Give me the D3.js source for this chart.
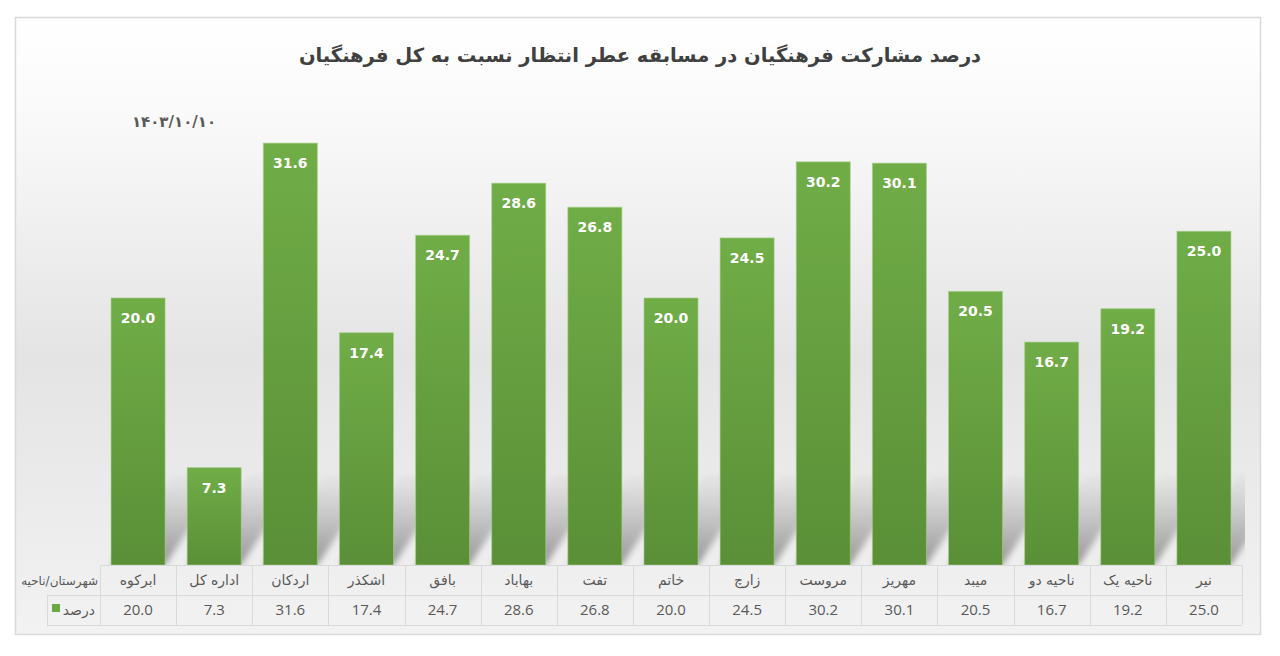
<!DOCTYPE html>
<html><head><meta charset="utf-8">
<script src="https://cdn.jsdelivr.net/npm/d3@7"></script>
<style>
html,body{margin:0;padding:0;background:#fff;}
svg{display:block;}
</style></head>
<body>
<svg id="chart" width="1280" height="656"></svg>
<script>
const categories = ["ابرکوه","اداره کل","اردکان","اشکذر","بافق","بهاباد","تفت","خاتم","زارچ","مروست","مهریز","میبد","ناحیه دو","ناحیه یک","نیر"];
const values = [20.0,7.3,31.6,17.4,24.7,28.6,26.8,20.0,24.5,30.2,30.1,20.5,16.7,19.2,25.0];
const titleText = "درصد مشارکت فرهنگیان در مسابقه عطر انتظار نسبت به کل فرهنگیان";
const dateText = "۱۴۰۳/۱۰/۱۰";
const headerLabel = "شهرستان/ناحیه";
const seriesName = "درصد";

const svg = d3.select("#chart");
const defs = svg.append("defs");
const bg = defs.append("linearGradient").attr("id","bg").attr("x1",0).attr("y1",0).attr("x2",0).attr("y2",1);
bg.append("stop").attr("offset","0%").attr("stop-color","#ffffff");
bg.append("stop").attr("offset","15%").attr("stop-color","#fafafa");
bg.append("stop").attr("offset","55%").attr("stop-color","#e4e4e4");
bg.append("stop").attr("offset","100%").attr("stop-color","#f2f2f2");
const bar = defs.append("linearGradient").attr("id","barg").attr("x1",0).attr("y1",0).attr("x2",0).attr("y2",1);
bar.append("stop").attr("offset","0%").attr("stop-color","#70ad47");
bar.append("stop").attr("offset","100%").attr("stop-color","#5a8f37");
const sh = defs.append("linearGradient").attr("id","shg").attr("x1",0).attr("y1",1).attr("x2",0).attr("y2",0);
sh.append("stop").attr("offset","0%").attr("stop-color","#8c8c8c").attr("stop-opacity",0.9);
sh.append("stop").attr("offset","100%").attr("stop-color","#a0a0a0").attr("stop-opacity",0.05);
defs.append("filter").attr("id","blur").attr("x","-30%").attr("y","-30%").attr("width","160%").attr("height","160%")
  .append("feGaussianBlur").attr("stdDeviation",3);
defs.append("clipPath").attr("id","plotclip").append("rect")
  .attr("x",17).attr("y",19).attr("width",1228).attr("height",546);

// outer frame
svg.append("rect").attr("x",15.5).attr("y",17.5).attr("width",1245).attr("height",617)
  .attr("fill","url(#bg)").attr("stroke","#d9d9d9").attr("stroke-width",1.5);

const x = d3.scaleBand().domain(categories).range([100,1242]).paddingInner(0.29).paddingOuter(0.145);
const y = d3.scaleLinear().domain([0,35]).range([565,97.75]);
const base = y(0);

// shadows
svg.append("g").attr("clip-path","url(#plotclip)").append("g").attr("filter","url(#blur)")
  .selectAll("path").data(categories).join("path")
  .attr("d", d => {
    const x0 = x(d), x1 = x(d)+x.bandwidth(), h = 90, dx = 60;
    return `M${x0},${base} L${x1},${base} L${x1+dx},${base-h} L${x0+dx},${base-h} Z`;
  }).attr("fill","url(#shg)");

// bars
svg.append("g").selectAll("rect").data(values).join("rect")
  .attr("x",(d,i)=>x(categories[i]))
  .attr("y",d=>y(d))
  .attr("width",x.bandwidth())
  .attr("height",d=>base-y(d))
  .attr("fill","url(#barg)")
  .attr("stroke","#a9d18e").attr("stroke-width",1).attr("stroke-opacity",0.6);

// data labels
svg.append("g").selectAll("text").data(values).join("text")
  .attr("x",(d,i)=>x(categories[i])+x.bandwidth()/2)
  .attr("y",d=>y(d)+25)
  .attr("text-anchor","middle")
  .attr("font-family","'DejaVu Sans', sans-serif")
  .attr("font-weight","bold").attr("font-size",14)
  .attr("fill","#ffffff")
  .text(d=>d.toFixed(1));

// title
svg.append("text").attr("x",640).attr("y",62).attr("text-anchor","middle")
  .attr("font-family","'DejaVu Sans', sans-serif").attr("font-weight","bold").attr("font-size",19.5)
  .attr("fill","#404040").text(titleText);
// date
svg.append("text").attr("x",174).attr("y",127).attr("text-anchor","middle")
  .attr("font-family","'DejaVu Sans', sans-serif").attr("font-weight","bold").attr("font-size",15)
  .attr("fill","#595959").text(dateText);

// data table
const step = x.step();
const tL = 100, tR = 1242, r0 = 565, r1 = 595, r2 = 625;
const tg = svg.append("g").attr("stroke","#d9d9d9").attr("stroke-width",1).attr("fill","none");
tg.append("line").attr("x1",tL).attr("x2",tR).attr("y1",r0+0.5).attr("y2",r0+0.5);
tg.append("line").attr("x1",47).attr("x2",tR).attr("y1",r1+0.5).attr("y2",r1+0.5);
tg.append("line").attr("x1",47).attr("x2",tR).attr("y1",r2+0.5).attr("y2",r2+0.5);
tg.append("line").attr("x1",47.5).attr("x2",47.5).attr("y1",r1).attr("y2",r2);
d3.range(categories.length+1).forEach(i=>{
  const xx = Math.round(tL + i*step)+0.5;
  tg.append("line").attr("x1",xx).attr("x2",xx).attr("y1",r0).attr("y2",r2);
});
const tt = svg.append("g").attr("font-family","'DejaVu Sans', sans-serif").attr("font-size",14).attr("fill","#595959");
tt.selectAll("text.cat").data(categories).join("text").attr("class","cat")
  .attr("x",d=>x(d)+x.bandwidth()/2).attr("y",585).attr("text-anchor","middle").text(d=>d);
tt.selectAll("text.val").data(values).join("text").attr("class","val")
  .attr("x",(d,i)=>x(categories[i])+x.bandwidth()/2).attr("y",615).attr("text-anchor","middle")
  .attr("font-family","'Open Sans', sans-serif").attr("font-size",15)
  .text(d=>d.toFixed(1));
tt.append("text").attr("x",98).attr("y",585).attr("text-anchor","end").attr("font-size",12).text(headerLabel);
tt.append("text").attr("x",95).attr("y",615).attr("text-anchor","end").attr("font-size",14).text(seriesName);
svg.append("rect").attr("x",52).attr("y",604).attr("width",8).attr("height",8).attr("fill","#6aa843");
</script>
</body></html>
